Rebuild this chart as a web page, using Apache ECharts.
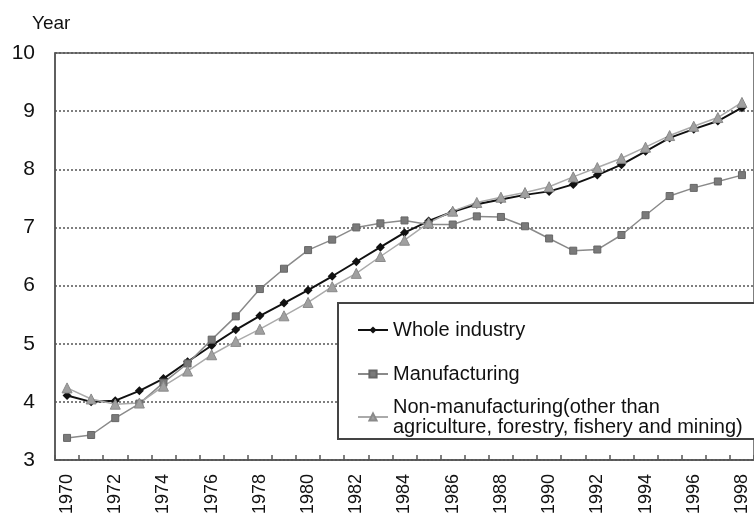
<!DOCTYPE html>
<html><head><meta charset="utf-8">
<script src="https://cdn.jsdelivr.net/npm/echarts@6/dist/echarts.min.js"></script>
<style>html,body{margin:0;padding:0;background:#fff}#c{width:754px;height:519px}</style>
</head><body><div id="c"></div>
<script>
const years = ['1970','1971','1972','1973','1974','1975','1976','1977','1978','1979','1980','1981','1982','1983','1984','1985','1986','1987','1988','1989','1990','1991','1992','1993','1994','1995','1996','1997','1998'];
const wholeIndustry = [4.11,4.00,4.02,4.19,4.40,4.69,4.97,5.24,5.48,5.70,5.92,6.16,6.41,6.66,6.91,7.11,7.27,7.40,7.48,7.56,7.62,7.74,7.90,8.08,8.31,8.54,8.69,8.83,9.06];
const manufacturing = [3.38,3.43,3.72,3.97,4.33,4.66,5.07,5.47,5.94,6.29,6.61,6.79,7.00,7.07,7.12,7.05,7.05,7.19,7.18,7.02,6.81,6.60,6.62,6.87,7.21,7.54,7.68,7.79,7.90];
const nonManufacturing = [4.24,4.05,3.96,3.98,4.27,4.53,4.81,5.04,5.25,5.48,5.71,5.98,6.21,6.50,6.78,7.08,7.28,7.43,7.52,7.60,7.70,7.87,8.03,8.19,8.38,8.58,8.74,8.89,9.15];
const yTicks = {min:3, max:10, interval:1};
const names = ['Whole industry','Manufacturing','Non-manufacturing(other than\nagriculture, forestry, fishery and mining)'];

const font = 'Liberation Sans, Arial, sans-serif';
const chart = echarts.init(document.getElementById('c'));
chart.setOption({
  animation:false,
  backgroundColor:'#fff',
  title:{text:'Year', left:27, top:9, textStyle:{fontFamily:font, fontSize:19, fontWeight:'normal', color:'#111'}},
  grid:{left:55, top:53, bottom:59, right:-5, show:true, borderColor:'#555', borderWidth:1.5, backgroundColor:'transparent'},
  xAxis:{type:'category', data:years, boundaryGap:true,
    axisLine:{lineStyle:{color:'#555', width:1.5}},
    axisTick:{show:true, inside:true, length:5, interval:0, lineStyle:{color:'#555', width:1.5}},
    axisLabel:{rotate:90, interval:1, margin:14, fontFamily:font, fontSize:18, color:'#111'},
    splitLine:{show:false}},
  yAxis:{type:'value', min:yTicks.min, max:yTicks.max, interval:yTicks.interval,
    axisLine:{show:true, lineStyle:{color:'#555', width:1.5}},
    axisTick:{show:false},
    axisLabel:{margin:20, fontFamily:font, fontSize:21, color:'#111'},
    splitLine:{show:true, lineStyle:{color:'#555', type:[2,2], width:1.5}}},
  legend:[
    {orient:'vertical', left:352, top:315, itemGap:24, itemWidth:30, itemHeight:9,
     data:[names[0], names[1]],
     textStyle:{fontFamily:font, fontSize:20, color:'#111', lineHeight:20}},
    {orient:'vertical', left:352, top:392, itemWidth:30, itemHeight:9,
     data:[names[2]],
     textStyle:{fontFamily:font, fontSize:20, color:'#111', lineHeight:20}}
  ],
  graphic:[{type:'rect', z:3, shape:{x:338, y:303, width:440, height:136},
    style:{fill:'#fff', stroke:'#444', lineWidth:2}}],
  series:[
    {name:names[0], type:'line', data:wholeIndustry, symbol:'diamond', symbolSize:9,
     lineStyle:{color:'#111', width:2}, itemStyle:{color:'#111'}},
    {name:names[1], type:'line', data:manufacturing, symbol:'rect', symbolSize:7,
     lineStyle:{color:'#8a8a8a', width:1.5}, itemStyle:{color:'#7a7a7a', borderColor:'#666', borderWidth:1}},
    {name:names[2], type:'line', data:nonManufacturing, symbol:'triangle', symbolSize:10,
     lineStyle:{color:'#aaa', width:1.5}, itemStyle:{color:'#a0a0a0', borderColor:'#8a8a8a', borderWidth:1}}
  ]
});
</script></body></html>
